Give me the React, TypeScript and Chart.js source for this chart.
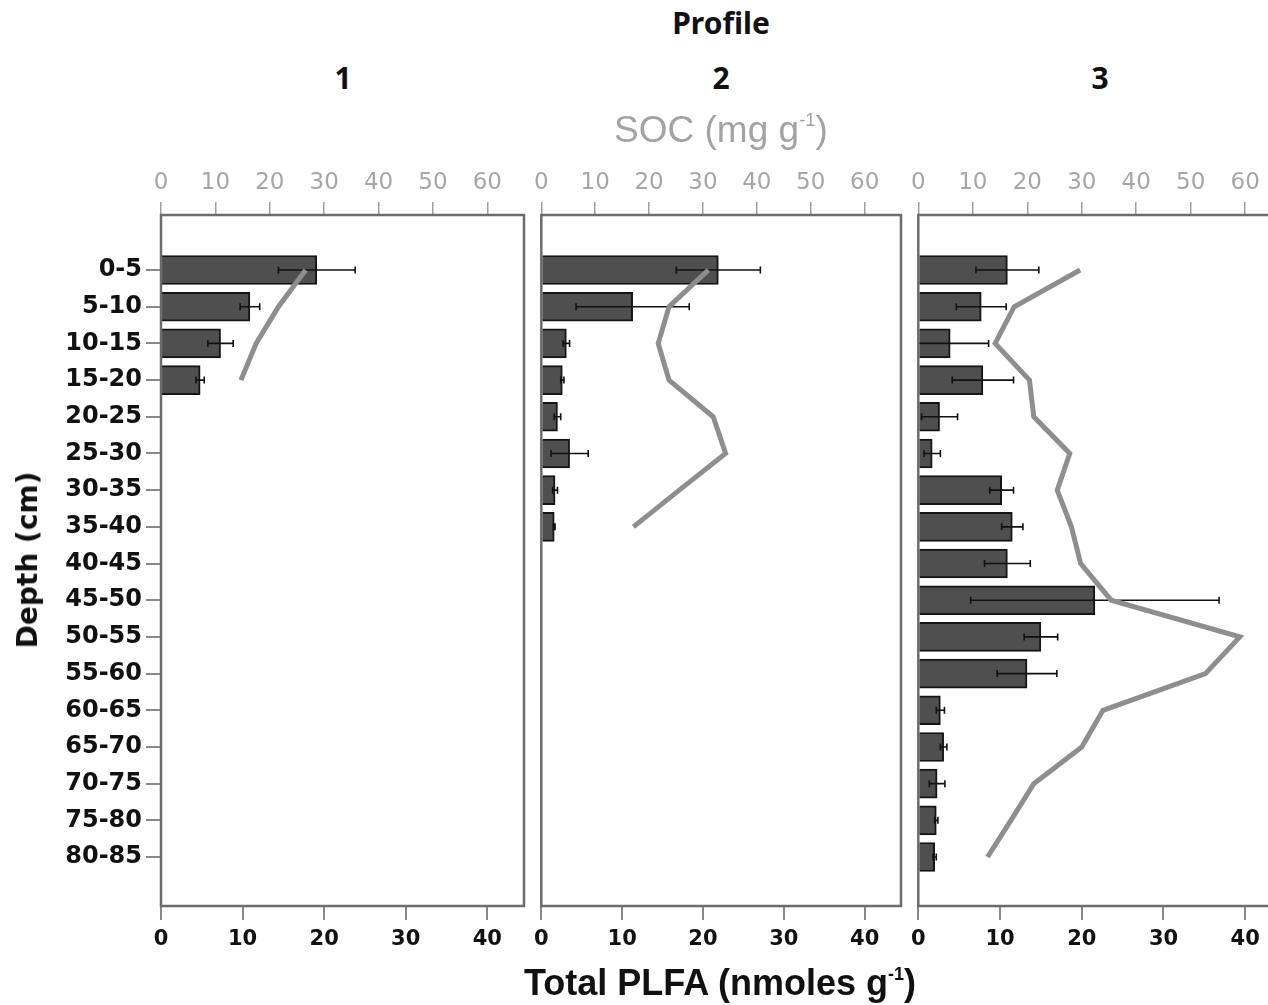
import React, { useEffect, useRef } from "react";
import { Chart, registerables } from "chart.js";

Chart.register(...registerables);

// ---------- data ----------
const depthLabels = [
  "0-5", "5-10", "10-15", "15-20", "20-25", "25-30", "30-35", "35-40", "40-45",
  "45-50", "50-55", "55-60", "60-65", "65-70", "70-75", "75-80", "80-85",
];
const plfaTicks = [0, 10, 20, 30, 40];
const socTicks = [0, 10, 20, 30, 40, 50, 60];
const profileNames = ["1", "2", "3"];

// Profile 1
const p1Plfa = [19.1, 10.9, 7.3, 4.8];
const p1Err = [4.7, 1.2, 1.55, 0.5];
const p1Soc = [26.6, 21.6, 17.5, 14.7];

// Profile 2
const p2Plfa = [21.9, 11.3, 3.1, 2.6, 2.0, 3.5, 1.7, 1.6];
const p2Err = [5.2, 7.0, 0.4, 0.2, 0.4, 2.3, 0.3, 0.1];
const p2Soc = [31.0, 23.7, 21.7, 23.7, 31.9, 34.2, 25.6, 17.1];

// Profile 3
const p3Plfa = [10.9, 7.7, 3.9, 7.9, 2.6, 1.7, 10.2, 11.5, 10.9, 21.6, 15.0, 13.3, 2.7, 3.1, 2.3, 2.2, 2.0];
const p3Err = [3.85, 3.05, 4.7, 3.75, 2.2, 1.0, 1.45, 1.3, 2.8, 15.2, 2.05, 3.65, 0.5, 0.4, 0.95, 0.2, 0.2];
const p3Soc = [29.7, 17.6, 14.1, 20.4, 21.2, 27.8, 25.5, 28.1, 29.8, 35.4, 59.0, 52.7, 33.9, 30.0, 21.2, 17.0, 12.7];

const PLFA_MAX = 44.5;
const SOC_MAX = 66.75;
const Y_MIN = -1.5;
const Y_MAX = 17.335;

// ---------- chart builder ----------
function buildPanel(
  canvas: HTMLCanvasElement,
  plfa: number[],
  err: number[],
  soc: number[],
  showDepth: boolean,
  padLeft: number,
  padRight: number,
  rightFrame: boolean
) {
  const barData = plfa.map((v, i) => ({ x: v, y: i }));
  const socData = soc.map((v, i) => ({ x: v, y: i }));

  const errPlugin = {
    id: "errbars",
    afterDatasetDraw(chart: any, args: any) {
      if (args.index !== 0) return;
      const ctx = chart.ctx;
      const xs = chart.scales.x;
      const ys = chart.scales.y;
      ctx.save();
      ctx.strokeStyle = "#111";
      ctx.lineWidth = 1.6;
      err.forEach((e, i) => {
        const v = plfa[i];
        const y = ys.getPixelForValue(i);
        const lo = Math.max(0, v - e);
        const hi = v + e;
        const x1 = xs.getPixelForValue(lo);
        const x2 = xs.getPixelForValue(hi);
        ctx.beginPath();
        ctx.moveTo(x1, y);
        ctx.lineTo(x2, y);
        if (v - e > 0) {
          ctx.moveTo(x1, y - 3.5);
          ctx.lineTo(x1, y + 3.5);
        }
        ctx.moveTo(x2, y - 3.5);
        ctx.lineTo(x2, y + 3.5);
        ctx.stroke();
      });
      ctx.restore();
    },
  };

  const framePlugin = {
    id: "frame",
    afterDraw(chart: any) {
      const { left, top, right, bottom } = chart.chartArea;
      const ctx = chart.ctx;
      ctx.save();
      ctx.strokeStyle = "#6c6c6c";
      ctx.lineWidth = 2.5;
      ctx.beginPath();
      if (rightFrame) {
        ctx.rect(left, top, right - left, bottom - top);
      } else {
        ctx.moveTo(right + 2, top);
        ctx.lineTo(left, top);
        ctx.lineTo(left, bottom);
        ctx.lineTo(right + 2, bottom);
      }
      ctx.stroke();
      ctx.restore();
    },
  };

  return new Chart(canvas, {
    type: "bar",
    data: {
      datasets: [
        {
          type: "bar",
          data: barData as any,
          xAxisID: "x",
          yAxisID: "y",
          backgroundColor: "#4f4f4f",
          borderColor: "#151515",
          borderWidth: 2,
          barThickness: 29,
          order: 1,
        } as any,
        {
          type: "line",
          indexAxis: "y",
          data: socData as any,
          xAxisID: "x2",
          yAxisID: "y",
          borderColor: "#8e8e8e",
          borderWidth: 5,
          pointRadius: 0,
          fill: false,
          tension: 0,
          order: 0,
        } as any,
      ],
    },
    options: {
      indexAxis: "y",
      animation: false,
      responsive: false,
      maintainAspectRatio: false,
      layout: { padding: { left: padLeft, right: padRight, top: 0, bottom: 0 } },
      plugins: { legend: { display: false }, tooltip: { enabled: false } },
      scales: {
        x: {
          type: "linear",
          position: "bottom",
          min: 0,
          max: PLFA_MAX,
          offset: false,
          afterBuildTicks: (s: any) => {
            s.ticks = plfaTicks.map((v) => ({ value: v }));
          },
          afterFit: (s: any) => {
            s.height = 54;
          },
          grid: { drawOnChartArea: false, drawTicks: true, tickLength: 14, color: "#8a8a8a", lineWidth: 2, offset: false },
          border: { display: false },
          ticks: {
            font: { family: "DejaVu Sans", size: 21, weight: "bold" },
            color: "#111",
            padding: 7,
            maxRotation: 0,
            minRotation: 0,
          },
        },
        x2: {
          type: "linear",
          position: "top",
          min: 0,
          max: SOC_MAX,
          offset: false,
          afterBuildTicks: (s: any) => {
            s.ticks = socTicks.map((v) => ({ value: v }));
          },
          afterFit: (s: any) => {
            s.height = 65;
          },
          grid: { drawOnChartArea: false, drawTicks: true, tickLength: 13, color: "#a0a0a0", lineWidth: 1.5, offset: false },
          border: { display: false },
          ticks: {
            font: { family: "DejaVu Sans", size: 23 },
            color: "#a6a6a6",
            padding: 5,
            maxRotation: 0,
            minRotation: 0,
          },
        },
        y: {
          type: "linear",
          display: showDepth,
          reverse: true,
          offset: false,
          min: Y_MIN,
          max: Y_MAX,
          afterBuildTicks: (s: any) => {
            s.ticks = depthLabels.map((_, i) => ({ value: i }));
          },
          afterFit: (s: any) => {
            s.width = showDepth ? 161 : 0;
          },
          grid: { drawOnChartArea: false, drawTicks: true, tickLength: 15, color: "#8a8a8a", lineWidth: 2, offset: false },
          border: { display: false },
          ticks: {
            autoSkip: false,
            callback: (v: any) => depthLabels[v as number] ?? "",
            font: { family: "DejaVu Sans", size: 24, weight: "bold" },
            color: "#111",
            padding: 4,
          },
        },
      },
    } as any,
    plugins: [errPlugin, framePlugin],
  });
}

function textStyle(x: number, y: number, extra: React.CSSProperties): React.CSSProperties {
  return {
    position: "absolute",
    left: x,
    top: y,
    transform: "translate(-50%, -50%)",
    whiteSpace: "nowrap",
    lineHeight: 1,
    ...extra,
  };
}

export default function App() {
  const r1 = useRef<HTMLCanvasElement>(null);
  const r2 = useRef<HTMLCanvasElement>(null);
  const r3 = useRef<HTMLCanvasElement>(null);

  useEffect(() => {
    const charts = [
      buildPanel(r1.current!, p1Plfa, p1Err, p1Soc, true, 0, 6, true),
      buildPanel(r2.current!, p2Plfa, p2Err, p2Soc, false, 14, 9, true),
      buildPanel(r3.current!, p3Plfa, p3Err, p3Soc, false, 14, 8, false),
    ];
    return () => charts.forEach((c) => c.destroy());
  }, []);

  const canvasStyle = (left: number, w: number): React.CSSProperties => ({
    position: "absolute",
    left,
    top: 150,
    width: w,
    height: 810,
  });

  const titleFont: React.CSSProperties = {
    fontFamily: "'Noto Sans', sans-serif",
    fontWeight: 700,
    fontSize: 30,
    color: "#111",
  };
  const supStyle: React.CSSProperties = { fontSize: "0.5em", verticalAlign: "0.85em" };

  return (
    <div
      style={{
        position: "fixed",
        left: 0,
        top: 0,
        width: 1268,
        height: 1005,
        overflow: "hidden",
        background: "#fff",
      }}
    >
      <canvas ref={r1} width={530} height={810} style={canvasStyle(0, 530)} />
      <canvas ref={r2} width={383} height={810} style={canvasStyle(527, 383)} />
      <canvas ref={r3} width={386} height={810} style={canvasStyle(904, 386)} />

      <div style={textStyle(721, 23, titleFont)}>Profile</div>
      <div style={textStyle(343, 78, titleFont)}>{profileNames[0]}</div>
      <div style={textStyle(721, 78, titleFont)}>{profileNames[1]}</div>
      <div style={textStyle(1100, 78, titleFont)}>{profileNames[2]}</div>

      <div
        style={textStyle(721, 129, {
          fontFamily: "'Liberation Sans', Arial, sans-serif",
          fontSize: 37,
          color: "#a3a3a3",
        })}
      >
        SOC (mg g<span style={supStyle}>-1</span>)
      </div>

      <div
        style={textStyle(720, 983, {
          fontFamily: "'Liberation Sans', Arial, sans-serif",
          fontWeight: 700,
          fontSize: 36,
          color: "#111",
        })}
      >
        Total PLFA (nmoles g<span style={supStyle}>-1</span>)
      </div>

      <div
        style={{
          ...textStyle(28, 560, {
            fontFamily: "'DejaVu Sans', sans-serif",
            fontWeight: 700,
            fontSize: 28,
            color: "#111",
          }),
          transform: "translate(-50%, -50%) rotate(-90deg)",
        }}
      >
        Depth (cm)
      </div>
    </div>
  );
}
